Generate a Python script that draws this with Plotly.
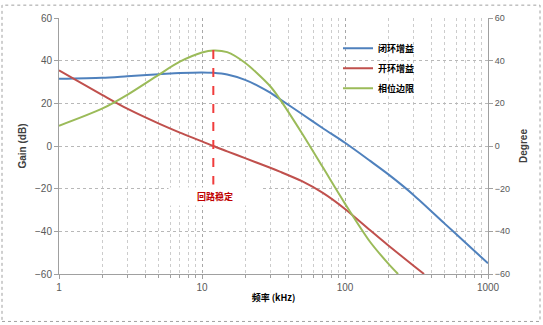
import math
import plotly.graph_objects as go

# ---- data ----
freq_closed = [1, 2, 3, 5, 7, 10, 12, 15, 20, 25, 30, 35, 50, 70, 100, 150, 200, 300, 500, 700, 1000]
gain_closed = [31.5, 32, 32.7, 33.6, 34.2, 34.5, 34.3, 33.5, 31, 28, 25, 22, 15, 8.3, 1.5, -7, -13.2, -22.8, -36.5, -45.5, -55]

freq_open = [1, 2, 3, 5, 7, 10, 12, 15, 20, 30, 35, 50, 70, 100, 150, 200, 300, 357]
gain_open = [35.5, 24, 17.5, 10.5, 6.3, 2.2, 0, -2.5, -5.7, -10.2, -12, -16.5, -22, -29.5, -39.5, -46.5, -56, -60]

freq_phase = [1, 2, 3, 5, 7, 10, 12, 15, 20, 30, 35, 50, 70, 100, 150, 200, 235]
phase = [9.5, 17.5, 24, 33.5, 39.5, 43.8, 44.8, 44, 39, 28, 22, 6, -10, -27, -45, -55, -60]

names = ["闭环增益", "开环增益", "相位边限"]
colors = ["#4F81BD", "#C0504D", "#9BBB59"]

marker_freq = [12, 12]
marker_gain = [45, -18]
marker_label = "回路稳定"
label_gain = -23.6

y_ticks = [-60, -40, -20, 0, 20, 40, 60]
x_ticks = [1, 10, 100, 1000]
x_minor = [m * d for d in (1, 10, 100) for m in range(2, 10)]

fig = go.Figure()
series = [(freq_closed, gain_closed), (freq_open, gain_open), (freq_phase, phase)]
for i, (fx, fy) in enumerate(series):
    fig.add_trace(go.Scatter(
        x=fx, y=fy, mode="lines", name=names[i], legendgroup=names[i],
        line=dict(color=colors[i], width=2, shape="spline", smoothing=0.8),
    ))

fig.add_trace(go.Scatter(
    x=marker_freq, y=marker_gain, mode="lines", showlegend=False,
    line=dict(color="#F03C3C", width=2, dash="dash"),
))

# invisible trace to activate right axis
fig.add_trace(go.Scatter(x=[1], y=[0], yaxis="y2", mode="markers",
                         marker=dict(opacity=0), showlegend=False, hoverinfo="skip"))

grid_col = "#B8B8B8"
tick_font = dict(family="Liberation Sans, Arial, sans-serif", size=10, color="#595959")

fig.update_layout(
    width=543, height=325,
    margin=dict(l=59, r=55, t=15, b=51),
    paper_bgcolor="white", plot_bgcolor="white",
    showlegend=True,
    legend=dict(
        x=(338 - 59) / 429, y=(274 - 31) / 259, xanchor="left", yanchor="top",
        bgcolor="rgba(255,255,255,0)", tracegroupgap=1,
        font=dict(family="Noto Sans CJK SC", size=9, color="black", weight="bold"),
        itemwidth=30,
    ),
    xaxis=dict(
        type="log", range=[0, 3], tickvals=x_ticks, ticktext=[str(v) for v in x_ticks],
        showgrid=True, gridcolor="#A8A8A8", griddash="dot", gridwidth=1,
        showline=True, linecolor="#A0A0A0", linewidth=1,
        ticks="outside", ticklen=4, tickcolor="#A0A0A0",
        tickfont=tick_font, zeroline=False,
        minor=dict(tickvals=x_minor, ticks="outside", ticklen=3, tickcolor="#A0A0A0",
                   showgrid=True, gridcolor="#CCCCCC", griddash="dot", gridwidth=1),
        title=dict(text="频率 (kHz)", standoff=2,
                   font=dict(family="Noto Sans CJK SC", size=9, color="black", weight="bold")),
    ),
    yaxis=dict(
        range=[-60, 60], tickvals=y_ticks, showgrid=True, gridcolor=grid_col,
        griddash="dot", gridwidth=1, zeroline=False,
        showline=True, linecolor="#A0A0A0", linewidth=1,
        ticks="outside", ticklen=4, tickcolor="#A0A0A0", tickfont=tick_font,
        title=dict(text="Gain (dB)", standoff=6,
                   font=dict(family="Liberation Sans, Arial, sans-serif", size=10, color="#404040", weight="bold")),
    ),
    yaxis2=dict(
        range=[-60, 60], tickvals=y_ticks, overlaying="y", side="right",
        showgrid=False, zeroline=False,
        showline=True, linecolor="#A0A0A0", linewidth=1,
        ticks="outside", ticklen=4, tickcolor="#A0A0A0",
        tickfont=dict(family="Liberation Sans, Arial, sans-serif", size=9, color="#595959"),
        title=dict(text="Degree", standoff=10,
                   font=dict(family="Liberation Sans, Arial, sans-serif", size=10, color="#404040", weight="bold")),
    ),
)

# label with white box (annotation x on a log axis is given in log10 units)
fig.add_annotation(x=math.log10(marker_freq[0]), y=label_gain, xref="x", yref="y",
                   text=marker_label, showarrow=False,
                   xanchor="center", xshift=2, width=92, height=17, bgcolor="white",
                   borderpad=0,
                   font=dict(family="Noto Sans CJK SC", size=9, color="#C00000", weight="bold"))

# outer dotted border
fig.add_shape(type="rect", xref="paper", yref="paper",
              x0=(2 - 59) / 429, x1=(540 - 59) / 429,
              y0=(274 - 322) / 259, y1=(274 - 2) / 259,
              line=dict(color="#A0A0A0", width=1, dash="dot"), fillcolor="rgba(0,0,0,0)")

fig.write_html("out.html")
